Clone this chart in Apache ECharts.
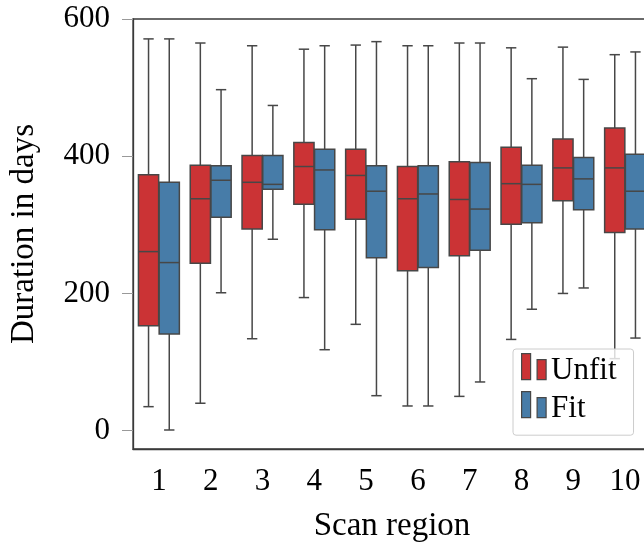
<!DOCTYPE html>
<html>
<head>
<meta charset="utf-8">
<script src="https://cdn.jsdelivr.net/npm/echarts@6.0.0/dist/echarts.min.js"></script>
<style>
  html, body { margin: 0; padding: 0; background: #fff; }
  #chart { width: 644px; height: 545px; }
</style>
</head>
<body>
<div id="chart"></div>
<script>
const categories = ['1', '2', '3', '4', '5', '6', '7', '8', '9', '10'];
const yTicks = [0, 200, 400, 600];

// per scan region: [lower whisker, Q1, median, Q3, upper whisker]
const unfitBoxes = [
    [35, 153, 261, 373, 571],
    [40, 244, 338, 387, 565],
    [134, 294, 362, 401, 561],
    [194, 330, 385, 420, 556],
    [155, 308, 372, 410, 562],
    [36, 233, 338, 385, 561],
    [50, 255, 337, 392, 565],
    [133, 301, 360, 413, 558],
    [200, 335, 383, 425, 559],
    [105, 289, 383, 441, 548]
];
const fitBoxes = [
    [1, 141, 245, 362, 571],
    [201, 311, 365, 386, 497],
    [279, 352, 359, 401, 474],
    [118, 293, 380, 410, 561],
    [51, 252, 349, 386, 567],
    [36, 238, 345, 386, 561],
    [71, 263, 323, 391, 565],
    [177, 303, 359, 387, 513],
    [208, 322, 367, 398, 512],
    [135, 294, 349, 403, 552]
];

const red = '#cb3335';
const blue = '#477ca8';
const edge = '#474747';
const font = 'Liberation Serif';
const legendIcon = 'path://M0,0H9V26H0Z M15.5,6H24.5V26H15.5Z';

// side: -1 = left box, 1 = right box within a region
function boxItem(side, color) {
    return function (params, api) {
        const idx = api.value(0);
        const band = api.size([1, 0])[0];
        const cx = api.coord([idx, 0])[0] + side * band * 0.2;
        const half = band * 0.195;
        const cap = band * 0.1;
        const y = [1, 2, 3, 4, 5].map(i => api.coord([idx, api.value(i)])[1]);
        const line = { stroke: edge, lineWidth: 1.5 };
        return {
            type: 'group',
            children: [
                { type: 'line', shape: { x1: cx, y1: y[0], x2: cx, y2: y[1] }, style: line },
                { type: 'line', shape: { x1: cx, y1: y[3], x2: cx, y2: y[4] }, style: line },
                { type: 'line', shape: { x1: cx - cap, y1: y[0], x2: cx + cap, y2: y[0] }, style: line },
                { type: 'line', shape: { x1: cx - cap, y1: y[4], x2: cx + cap, y2: y[4] }, style: line },
                {
                    type: 'rect',
                    shape: { x: cx - half, y: y[3], width: half * 2, height: y[1] - y[3] },
                    style: { fill: color, stroke: edge, lineWidth: 1.5 }
                },
                { type: 'line', shape: { x1: cx - half, y1: y[2], x2: cx + half, y2: y[2] }, style: line }
            ]
        };
    };
}

const chart = echarts.init(document.getElementById('chart'));

const option = {
    animation: false,
    textStyle: { fontFamily: font },
    grid: {
        left: 133,
        top: 19,
        width: 518,
        height: 430,
        show: true,
        borderColor: '#3a3a3a',
        borderWidth: 1.3,
        backgroundColor: 'transparent',
        outerBoundsMode: 'none'
    },
    legend: {
        orient: 'vertical',
        left: 513,
        top: 349,
        itemWidth: 24.5,
        itemHeight: 26,
        itemGap: 5,
        padding: [4, 17, 11, 8],
        backgroundColor: 'rgba(255,255,255,0.8)',
        borderColor: '#cccccc',
        borderWidth: 1,
        borderRadius: 3,
        formatter: '{t|{name}}',
        textStyle: {
            fontFamily: font,
            fontSize: 31,
            color: '#000',
            rich: { t: { fontFamily: font, fontSize: 31, color: '#000', padding: [8, 0, 0, 0] } }
        },
        data: [
            { name: 'Unfit', icon: legendIcon, itemStyle: { color: red, borderColor: edge, borderWidth: 1.2 } },
            { name: 'Fit', icon: legendIcon, itemStyle: { color: blue, borderColor: edge, borderWidth: 1.2 } }
        ]
    },
    xAxis: {
        type: 'category',
        data: categories,
        boundaryGap: true,
        name: 'Scan region',
        nameLocation: 'middle',
        nameGap: 61,
        nameTextStyle: { fontFamily: font, fontSize: 33, color: '#000' },
        axisLine: { onZero: false, lineStyle: { color: '#3a3a3a', width: 1.3 } },
        axisTick: { alignWithLabel: true, length: 11, lineStyle: { color: '#999', width: 1 } },
        axisLabel: { margin: 17, fontFamily: font, fontSize: 31, color: '#000' },
        splitLine: { show: false }
    },
    yAxis: {
        type: 'value',
        min: -26.7,
        max: 600,
        name: 'Duration in days',
        nameLocation: 'middle',
        nameGap: 92,
        nameTextStyle: { fontFamily: font, fontSize: 33, color: '#000' },
        axisLine: { show: true, onZero: false, lineStyle: { color: '#3a3a3a', width: 1.3 } },
        axisTick: { show: true, length: 11, customValues: yTicks, lineStyle: { color: '#999', width: 1 } },
        axisLabel: { margin: 23, fontFamily: font, fontSize: 31, color: '#000', customValues: yTicks },
        splitLine: { show: false }
    },
    series: [
        {
            name: 'Unfit',
            type: 'custom',
            itemStyle: { color: red },
            renderItem: boxItem(-1, red),
            encode: { x: 0, y: [1, 2, 3, 4, 5] },
            data: unfitBoxes.map((b, i) => [i].concat(b))
        },
        {
            name: 'Fit',
            type: 'custom',
            itemStyle: { color: blue },
            renderItem: boxItem(1, blue),
            encode: { x: 0, y: [1, 2, 3, 4, 5] },
            data: fitBoxes.map((b, i) => [i].concat(b))
        }
    ]
};

chart.setOption(option);
</script>
</body>
</html>
